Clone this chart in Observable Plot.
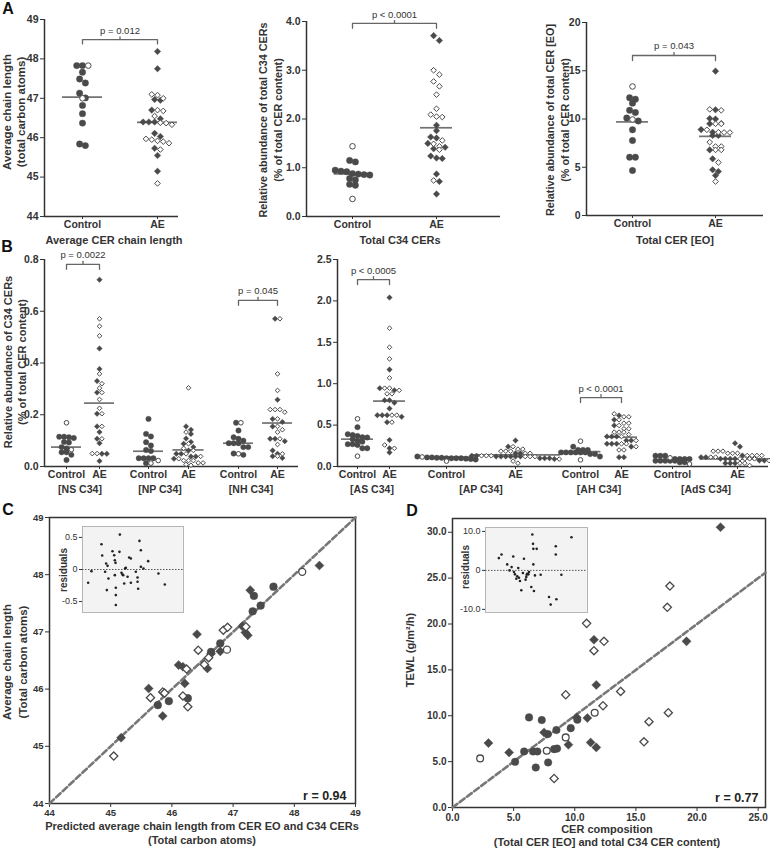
<!DOCTYPE html>
<html><head><meta charset="utf-8">
<script src="https://cdn.jsdelivr.net/npm/d3@7"></script>
<script src="https://cdn.jsdelivr.net/npm/@observablehq/plot@0.6"></script>
<style>
body{margin:0;background:#fff;}
#fig{position:relative;width:770px;height:849px;overflow:hidden;font-family:"Liberation Sans",Arial,Helvetica,sans-serif;color:#333;background:#fff;}
.t{position:absolute;white-space:nowrap;font-weight:bold;line-height:1;}
</style></head><body><div id="fig"></div><script>
// ---------------- DATA ----------------
// Panel A1: average CER chain length
const lenControlFilled = [47.83, 47.83, 47.66, 47.49, 47.39, 47.13, 47.01, 46.82, 46.61, 46.37, 45.84, 45.80];
const lenControlOpen = [47.83, 47.0];
const lenAEFilled = [48.19, 47.75, 46.97, 46.95, 46.7, 46.48, 46.4, 46.4, 46.4, 46.11, 46.03, 45.73, 45.55, 45.15];
const lenAEOpen = [47.1, 47.08, 47.0, 46.68, 46.7, 46.55, 46.38, 46.37, 46.33, 45.97, 45.95, 45.92, 45.9, 45.86, 45.70, 44.84];
const lenMedians = [47.03, 46.39];
// Panel A2: total C34 CERs
const c34ControlFilled = [1.15, 1.12, 0.95, 0.93, 0.92, 0.88, 0.87, 0.86, 0.85, 0.78, 0.75, 0.66, 0.64];
const c34ControlOpen = [1.44, 0.36];
const c34AEFilled = [3.71, 3.61, 1.87, 1.76, 1.63, 1.61, 1.5, 1.42, 1.39, 1.24, 1.2, 1.19, 0.87, 0.72, 0.46];
const c34AEOpen = [3.0, 2.91, 2.77, 2.67, 2.5, 2.21, 2.09, 2.05, 2.04, 1.56, 1.49, 1.44, 1.37, 0.74];
const c34Medians = [0.875, 1.82];
// Panel A3: total CER [EO]
const eoControlFilled = [12.2, 12.05, 11.64, 10.9, 10.67, 10.1, 9.8, 8.88, 7.77, 6.04, 6.04, 4.66];
const eoControlOpen = [13.37, 9.95];
const eoAEFilled = [14.96, 10.95, 10.05, 10.0, 9.5, 8.9, 8.63, 8.3, 8.3, 6.8, 5.87, 4.73, 4.56, 4.15];
const eoAEOpen = [11.0, 10.9, 9.55, 9.5, 9.5, 8.88, 8.6, 8.63, 8.6, 7.6, 7.15, 7.15, 6.8, 6.8, 5.5, 3.52];
const eoMedians = [9.7, 8.2];
// Panel B: C34 species
const nsControlFilled = [0.115, 0.115, 0.113, 0.11, 0.095, 0.093, 0.075, 0.07, 0.055, 0.055, 0.045, 0.025];
const nsControlOpen = [0.169, 0.065];
const nsAEFilled = [0.722, 0.456, 0.377, 0.33, 0.286, 0.204, 0.155, 0.133, 0.107, 0.09, 0.049, 0.049, 0.021];
const nsAEOpen = [0.571, 0.542, 0.505, 0.358, 0.32, 0.303, 0.286, 0.259, 0.225, 0.204, 0.155, 0.107, 0.05, 0.05];
const npControlFilled = [0.184, 0.126, 0.116, 0.094, 0.081, 0.064, 0.06, 0.032, 0.032, 0.032, 0.032, 0.013];
const npControlOpen = [0.023, 0.013];
const npAEFilled = [0.155, 0.142, 0.126, 0.108, 0.095, 0.088, 0.075, 0.062, 0.049, 0.049, 0.039, 0.039, 0.03];
const npAEOpen = [0.304, 0.133, 0.088, 0.07, 0.062, 0.049, 0.039, 0.03, 0.023, 0.023, 0.023, 0.014, 0.014, 0.008, 0.005];
const nhControlFilled = [0.169, 0.139, 0.113, 0.107, 0.1, 0.09, 0.09, 0.09, 0.075, 0.075, 0.05, 0.045];
const nhControlOpen = [0.169, 0.049];
const nhAEFilled = [0.571, 0.258, 0.184, 0.172, 0.155, 0.107, 0.107, 0.098, 0.062, 0.049, 0.04, 0.033];
const nhAEOpen = [0.571, 0.358, 0.294, 0.22, 0.22, 0.22, 0.21, 0.184, 0.155, 0.142, 0.133, 0.107, 0.085, 0.049, 0.04];
const bLeftMedians = [0.075, 0.245, 0.059, 0.064, 0.09, 0.168];
const asControlFilled = [0.475, 0.39, 0.38, 0.37, 0.355, 0.35, 0.33, 0.31, 0.3, 0.27, 0.27, 0.26, 0.22, 0.22];
const asControlOpen = [0.576, 0.125];
const asAEFilled = [2.04, 1.17, 0.946, 0.92, 0.8, 0.8, 0.77, 0.70, 0.62, 0.62, 0.62, 0.6, 0.535, 0.32, 0.22, 0.17];
const asAEOpen = [1.67, 1.44, 1.3, 1.07, 0.946, 0.946, 0.92, 0.878, 0.878, 0.62, 0.62, 0.535, 0.26, 0.22];
const apControlFilled = [0.105, 0.1, 0.11, 0.1, 0.095, 0.12, 0.105, 0.09, 0.1, 0.11, 0.085, 0.1];
const apControlOpen = [0.115, 0.065];
const apAEFilled = [0.314, 0.24, 0.16, 0.16, 0.13, 0.13, 0.12, 0.12, 0.12, 0.12, 0.12, 0.12, 0.1, 0.1, 0.1, 0.09];
const apAEOpen = [0.24, 0.21, 0.21, 0.185, 0.185, 0.185, 0.16, 0.16, 0.13, 0.13, 0.13, 0.12, 0.12, 0.12, 0.09, 0.065, 0.04];
const ahControlFilled = [0.24, 0.2, 0.2, 0.2, 0.17, 0.17, 0.17, 0.17, 0.17, 0.17, 0.15, 0.15, 0.12];
const ahControlOpen = [0.306, 0.08];
const ahAEFilled = [0.616, 0.564, 0.495, 0.362, 0.362, 0.362, 0.314, 0.314, 0.274, 0.274, 0.274, 0.24, 0.113, 0.113];
const ahAEOpen = [0.636, 0.6, 0.6, 0.564, 0.523, 0.523, 0.495, 0.455, 0.455, 0.415, 0.415, 0.415, 0.386, 0.362, 0.314, 0.274, 0.274, 0.24, 0.2, 0.2];
const adsControlFilled = [0.13, 0.13, 0.13, 0.09, 0.09, 0.09, 0.09, 0.07, 0.07, 0.07, 0.07, 0.07, 0.05, 0.05];
const adsControlOpen = [0.105, 0.03];
const adsAEFilled = [0.28, 0.24, 0.133, 0.113, 0.113, 0.093, 0.093, 0.093, 0.093, 0.072, 0.072, 0.04, 0.04, 0.04];
const adsAEOpen = [0.185, 0.185, 0.185, 0.16, 0.16, 0.16, 0.133, 0.133, 0.133, 0.133, 0.113, 0.113, 0.093, 0.093, 0.093, 0.093, 0.072, 0.072, 0.04, 0.04, 0.012];
const bRightMedians = [0.33, 0.79, 0.115, 0.14, 0.18, 0.354, 0.08, 0.093];
// Panel C: predicted vs measured chain length
const cPredicted = [45.05,45.17,45.62,45.65,45.77,45.85,45.85,45.88,45.95,46.18,46.21,46.26,46.26,46.11,46.18,46.24,46.41,46.43,46.53,46.58,46.60,46.64,46.64,46.79,46.79,46.84,46.91,46.90,47.15,47.21,47.20,47.24,47.32,47.45,47.28,47.34,47.66,48.13,48.41];
const cMeasured  = [44.83,45.15,46.01,45.85,45.72,45.53,45.95,45.93,45.79,45.88,46.10,45.84,45.69,46.42,46.39,46.35,46.96,46.68,46.43,46.36,46.55,46.62,46.65,46.66,46.80,47.03,47.08,46.69,47.10,47.09,46.99,46.94,47.36,47.46,47.73,47.63,47.79,48.05,48.16];
const cGroup = ["AE","AE","AE","AE","Control","AE","AE","AE","Control","AE","AE","Control","AE","AE","AE","AE","AE","AE","AE","AE","AE","AE","Control","AE","Control","AE","AE","Control","AE","AE","AE","AE","Control","Control","AE","Control","Control","Control","AE"];
const cOpen = [1,0,0,1,0,0,1,1,0,1,0,0,1,0,0,1,0,1,1,0,1,0,0,0,0,1,1,1,0,1,0,0,0,0,0,0,0,1,0];
const cResidualX = [5.6,8.9,18.8,19.5,22.4,23.4,24.8,24.1,25.7,29.7,31.4,32.0,32.7,32.0,33.0,33.0,33.0,37.0,36.6,38.6,39.6,40.3,41.3,42.2,42.9,44.6,46.2,47.9,47.9,52.8,54.5,54.5,55.1,56.4,57.8,57.8,60.4,65.0,75.2,81.5];
const cResidualY = [-0.207,-0.026,0.394,0.218,-0.036,0.093,0.057,-0.321,-0.140,0.285,0.223,0.145,0.104,-0.088,-0.285,-0.399,-0.554,0.544,0.275,-0.052,-0.078,-0.088,-0.218,0.016,0.026,-0.114,0.187,0.171,-0.207,-0.036,-0.124,-0.192,-0.301,0.446,0.301,0.041,0.016,0.130,-0.062,-0.233];
const cR = "r = 0.94";
// Panel D: TEWL vs CER composition
const dComposition = [2.26,2.94,4.63,5.12,5.86,6.26,6.59,6.94,6.81,7.30,7.49,7.71,7.82,8.31,8.31,8.55,8.50,9.26,9.26,9.48,9.67,10.16,10.21,10.97,11.03,11.30,11.57,11.57,11.63,11.76,11.76,12.31,12.39,13.75,15.66,16.07,17.57,17.65,19.14,17.78,21.92,7.80];
const dTEWL = [5.35,7.02,6.0,4.98,6.11,9.82,6.11,6.11,4.36,9.53,8.18,6.18,4.91,3.16,6.36,6.42,8.44,12.29,7.64,6.84,8.65,9.82,9.56,20.07,9.75,7.09,18.29,17.09,10.33,13.35,6.55,11.09,18.11,12.65,7.16,9.35,21.82,10.33,18.11,24.14,30.55,8.0];
const dGroup = ["Control","AE","AE","Control","Control","Control","Control","Control","Control","Control","AE","Control","Control","AE","Control","Control","Control","AE","Control","AE","Control","AE","Control","AE","AE","AE","AE","AE","Control","AE","AE","AE","AE","AE","AE","AE","AE","AE","AE","AE","AE","Control"];
const dOpen = [1,0,0,0,0,0,0,0,0,0,0,1,0,1,0,0,0,1,1,0,0,0,0,1,0,0,0,1,1,0,0,1,1,1,1,1,1,1,0,1,0,0];
const dResidualX = [13.1,15.7,27.2,21.3,23.6,25.6,27.9,28.9,30.2,31.1,32.1,32.8,33.8,35.1,36.7,37.7,39.3,40.0,40.3,41.0,42.0,42.6,44.9,45.9,46.6,46.9,46.9,47.5,48.5,50.2,54.1,62.3,63.9,68.9,68.9,69.5,74.4,84.3];
const dResidualY = [3.15,4.09,3.57,1.53,0.0,0.85,-0.43,-1.02,-2.13,-1.53,0.60,-1.87,-2.72,-5.11,-0.68,2.98,-2.38,-1.70,-1.11,-0.85,-1.02,-0.43,-4.26,9.19,6.81,5.53,1.53,-5.28,-1.28,5.53,-1.11,-6.81,-8.77,6.21,4.09,-7.40,-1.11,8.51];
const dFit = {slope: 1.0, intercept: 0.0};
const dR = "r = 0.77";

// ---------------- STYLE / HELPERS ----------------
const FONT = '"Liberation Sans", Arial, Helvetica, sans-serif';
const INK = "#333";
const DOT = "#4a4a4a";
const MED = "#727272";
const fig = document.getElementById("fig");
const baseStyle = (size, weight="bold") => ({fontFamily: FONT, fontSize: size + "px", fontWeight: weight, color: INK, background: "transparent", overflow: "visible"});

function place(svg, left, top) {
  svg.style.position = "absolute";
  svg.style.left = left + "px";
  svg.style.top = top + "px";
  svg.style.maxWidth = "none";
  fig.appendChild(svg);
}
function txt(s, x, y, o = {}) {
  const d = document.createElement("div");
  d.className = "t";
  d.textContent = s;
  d.style.left = x + "px";
  d.style.top = y + "px";
  d.style.fontSize = (o.size || 11) + "px";
  if (o.weight) d.style.fontWeight = o.weight;
  if (o.color) d.style.color = o.color;
  d.style.transform = "translate(-50%,-50%)" + (o.rot ? " rotate(-90deg)" : "");
  fig.appendChild(d);
}
function dotMarks(pts, rC, rD, sw = 1.1) {
  return [
    Plot.dot(pts.filter(p => p.ctrl && !p.open), {x: "x", y: "y", r: rC, symbol: "circle", fill: DOT, stroke: DOT, strokeWidth: 0.4}),
    Plot.dot(pts.filter(p => !p.ctrl && !p.open), {x: "x", y: "y", r: rD, symbol: "diamond2", fill: DOT, stroke: DOT, strokeWidth: 0.4}),
    Plot.dot(pts.filter(p => p.ctrl && p.open), {x: "x", y: "y", r: rC - 0.4, symbol: "circle", fill: "white", stroke: DOT, strokeWidth: sw}),
    Plot.dot(pts.filter(p => !p.ctrl && p.open), {x: "x", y: "y", r: rD - 0.4, symbol: "diamond2", fill: "white", stroke: DOT, strokeWidth: sw})
  ];
}

function strip(cfg) {
  const {left, top, width, height, ml, mr, mt, mb, yDomain, yTicks, yFmt, groups, r} = cfg;
  const innerW = width - ml - mr;
  const yPx = d3.scaleLinear(yDomain, [height - mb, mt]);
  const spacing = 2 * r * 0.9, thresh = 2 * r * 0.8;
  const pts = [], meds = [], center = {};
  groups.forEach(g => {
    center[g.key] = g.center;
    const all = g.filled.map(v => ({v, open: false})).concat(g.open.map(v => ({v, open: true}))).sort((a, b) => b.v - a.v);
    const rows = []; let cur = null;
    for (const p of all) {
      const py = yPx(p.v);
      if (cur && py - cur.y0 < thresh) cur.items.push(p); else rows.push(cur = {y0: py, items: [p]});
    }
    let maxOff = 0;
    rows.forEach(row => {
      const n = row.items.length;
      row.items.forEach((p, i) => {
        const off = (i - (n - 1) / 2) * spacing;
        maxOff = Math.max(maxOff, Math.abs(off));
        pts.push({x: g.center + off, y: p.v, open: p.open, ctrl: g.ctrl});
      });
    });
    const half = Math.max(cfg.medHalf, maxOff + 1);
    meds.push({x1: g.center - half, x2: g.center + half, y: g.median});
  });
  const labelOf = new Map(groups.map(g => [g.center, g.ctrl ? "Control" : "AE"]));
  const br = (cfg.brackets || []).flatMap(b => {
    const x1 = center[b.a], x2 = center[b.b], xm = (x1 + x2) / 2;
    return [
      Plot.line([[x1, b.y - b.leg], [x1, b.y], [x2, b.y], [x2, b.y - b.leg]], {stroke: "#666", strokeWidth: 1.3}),
      Plot.line([[xm, b.y], [xm, b.y + b.tick]], {stroke: "#666", strokeWidth: 1.3}),
      Plot.text([{x: xm, y: b.ty, t: b.label}], {x: "x", y: "y", text: "t", fontSize: 9.5, fontWeight: "normal", fill: "#333"})
    ];
  });
  const svg = Plot.plot({
    width, height, marginLeft: ml, marginRight: mr, marginTop: mt, marginBottom: mb,
    style: baseStyle(cfg.font || 10.5),
    x: {domain: [0, innerW], ticks: groups.map(g => g.center), tickFormat: d => labelOf.get(d), tickSize: 3, tickPadding: cfg.xPad ?? 2, label: null},
    y: {domain: yDomain, ticks: yTicks, tickFormat: yFmt, tickSize: 4, tickPadding: 2, label: null},
    marks: [
      Plot.ruleY([yDomain[0]], {stroke: INK, strokeWidth: 1.5}),
      Plot.ruleX([0], {stroke: INK, strokeWidth: 1.5}),
      Plot.ruleY(meds, {y: "y", x1: "x1", x2: "x2", stroke: MED, strokeWidth: 1.7}),
      ...dotMarks(pts, r, r * 0.92, 1.0),
      ...br
    ]
  });
  place(svg, left, top);
}

const f1 = d3.format(".1f");

// ---------------- PANEL A ----------------
strip({left: 0, top: 0, width: 185, height: 245, ml: 44, mr: 7, mt: 19, mb: 29, r: 3.2, medHalf: 20, font: 10.5,
  yDomain: [44, 49], yTicks: [44, 45, 46, 47, 48, 49], yFmt: d => d, xPad: 1,
  groups: [
    {key: "C", ctrl: true, center: 38, filled: lenControlFilled, open: lenControlOpen, median: lenMedians[0]},
    {key: "AE", ctrl: false, center: 113, filled: lenAEFilled, open: lenAEOpen, median: lenMedians[1]}],
  brackets: [{a: "C", b: "AE", y: 48.49, leg: 0.11, tick: 0.07, ty: 48.72, label: "p = 0.012"}]});
strip({left: 250, top: 0, width: 252, height: 245, ml: 56, mr: 2, mt: 21, mb: 29, r: 3.2, medHalf: 16, font: 10.5,
  yDomain: [0, 4], yTicks: [0, 1, 2, 3, 4], yFmt: f1, xPad: 1,
  groups: [
    {key: "C", ctrl: true, center: 46, filled: c34ControlFilled, open: c34ControlOpen, median: c34Medians[0]},
    {key: "AE", ctrl: false, center: 130, filled: c34AEFilled, open: c34AEOpen, median: c34Medians[1]}],
  brackets: [{a: "C", b: "AE", y: 3.96, leg: 0.1, tick: 0.06, ty: 4.13, label: "p < 0.0001"}]});
strip({left: 510, top: 0, width: 258, height: 245, ml: 76, mr: 5, mt: 22, mb: 30, r: 3.2, medHalf: 16, font: 10.5,
  yDomain: [0, 20], yTicks: [0, 5, 10, 15, 20], yFmt: d => d, xPad: 1,
  groups: [
    {key: "C", ctrl: true, center: 46, filled: eoControlFilled, open: eoControlOpen, median: eoMedians[0]},
    {key: "AE", ctrl: false, center: 129, filled: eoAEFilled, open: eoAEOpen, median: eoMedians[1]}],
  brackets: [{a: "C", b: "AE", y: 16.58, leg: 0.52, tick: 0.3, ty: 17.6, label: "p = 0.043"}]});

// ---------------- PANEL B ----------------
strip({left: 0, top: 240, width: 300, height: 255, ml: 44, mr: 2, mt: 19, mb: 29, r: 2.7, medHalf: 15,
  yDomain: [0, 0.8], yTicks: [0, 0.2, 0.4, 0.6, 0.8], yFmt: f1, xPad: 1,
  groups: [
    {key: "NSC", ctrl: true, center: 22, filled: nsControlFilled, open: nsControlOpen, median: bLeftMedians[0]},
    {key: "NSA", ctrl: false, center: 55, filled: nsAEFilled, open: nsAEOpen, median: bLeftMedians[1]},
    {key: "NPC", ctrl: true, center: 104, filled: npControlFilled, open: npControlOpen, median: bLeftMedians[2]},
    {key: "NPA", ctrl: false, center: 144, filled: npAEFilled, open: npAEOpen, median: bLeftMedians[3]},
    {key: "NHC", ctrl: true, center: 194, filled: nhControlFilled, open: nhControlOpen, median: bLeftMedians[4]},
    {key: "NHA", ctrl: false, center: 233, filled: nhAEFilled, open: nhAEOpen, median: bLeftMedians[5]}],
  brackets: [
    {a: "NSC", b: "NSA", y: 0.781, leg: 0.019, tick: 0.012, ty: 0.816, label: "p = 0.0022"},
    {a: "NHC", b: "NHA", y: 0.642, leg: 0.019, tick: 0.012, ty: 0.677, label: "p = 0.045"}]});
strip({left: 290, top: 240, width: 480, height: 255, ml: 47, mr: 2, mt: 19, mb: 29, r: 2.7, medHalf: 16,
  yDomain: [0, 2.5], yTicks: [0, 0.5, 1, 1.5, 2, 2.5], yFmt: f1, xPad: 1,
  groups: [
    {key: "ASC", ctrl: true, center: 20, filled: asControlFilled, open: asControlOpen, median: bRightMedians[0]},
    {key: "ASA", ctrl: false, center: 52, filled: asAEFilled, open: asAEOpen, median: bRightMedians[1]},
    {key: "APC", ctrl: true, center: 109, filled: apControlFilled, open: apControlOpen, median: bRightMedians[2]},
    {key: "APA", ctrl: false, center: 178, filled: apAEFilled, open: apAEOpen, median: bRightMedians[3]},
    {key: "AHC", ctrl: true, center: 243, filled: ahControlFilled, open: ahControlOpen, median: bRightMedians[4]},
    {key: "AHA", ctrl: false, center: 284, filled: ahAEFilled, open: ahAEOpen, median: bRightMedians[5]},
    {key: "ADC", ctrl: true, center: 335, filled: adsControlFilled, open: adsControlOpen, median: bRightMedians[6]},
    {key: "ADA", ctrl: false, center: 400, filled: adsAEFilled, open: adsAEOpen, median: bRightMedians[7]}],
  brackets: [
    {a: "ASC", b: "ASA", y: 2.258, leg: 0.06, tick: 0.036, ty: 2.367, label: "p < 0.0005"},
    {a: "AHC", b: "AHA", y: 0.833, leg: 0.06, tick: 0.036, ty: 0.942, label: "p < 0.0001"}]});

// ---------------- PANEL C ----------------
{
  const pts = cPredicted.map((x, i) => ({x, y: cMeasured[i], ctrl: cGroup[i] === "Control", open: !!cOpen[i]}));
  const dom = [44, 49];
  const svg = Plot.plot({
    width: 380, height: 349, marginLeft: 49, marginRight: 25, marginTop: 17, marginBottom: 46,
    style: baseStyle(9.5),
    x: {domain: dom, ticks: [44, 45, 46, 47, 48, 49], tickFormat: d => d, tickSize: 4, tickPadding: 2, label: null},
    y: {domain: dom, ticks: [44, 45, 46, 47, 48, 49], tickFormat: d => d, tickSize: 4, tickPadding: 2, label: null},
    marks: [
      Plot.frame({stroke: INK, strokeWidth: 1.5}),
      Plot.line(dom.map(v => [v, v]), {stroke: "#777", strokeWidth: 2.6, strokeDasharray: "6,3"}),
      ...dotMarks(pts, 3.9, 4.1, 1.3),
      Plot.text([cR], {frameAnchor: "bottom-right", dx: -9, dy: -4, fontSize: 12.5, fontWeight: "bold", fill: "#222"})
    ]
  });
  place(svg, 0, 500);
  const res = cResidualX.map((x, i) => ({x, y: cResidualY[i]}));
  const inset = Plot.plot({
    width: 135, height: 95, marginLeft: 32, marginRight: 2, marginTop: 6, marginBottom: 3,
    style: baseStyle(9, "normal"),
    x: {domain: [0, 100], axis: null},
    y: {domain: [-0.67, 0.67], ticks: [-0.5, 0, 0.5], tickFormat: d => d === 0 ? "0" : d.toFixed(1), tickSize: 3, tickPadding: 2, label: null},
    marks: [
      Plot.frame({fill: "#f3f3f3", stroke: "#b5b5b5"}),
      Plot.ruleY([0], {stroke: "#555", strokeDasharray: "1.5,1.5", strokeWidth: 1}),
      Plot.dot(res, {x: "x", y: "y", r: 1.3, fill: "#222", stroke: "none"})
    ]
  });
  place(inset, 50, 520);
}

// ---------------- PANEL D ----------------
{
  const pts = dComposition.map((x, i) => ({x, y: dTEWL[i], ctrl: dGroup[i] === "Control", open: !!dOpen[i]}));
  const xd = [0, 25.6];
  const svg = Plot.plot({
    width: 385, height: 349, marginLeft: 67, marginRight: 5, marginTop: 18, marginBottom: 42,
    style: baseStyle(10),
    x: {domain: xd, ticks: [0, 5, 10, 15, 20, 25], tickFormat: f1, tickSize: 4, tickPadding: 2, label: null},
    y: {domain: [0, 31.5], ticks: [0, 5, 10, 15, 20, 25, 30], tickFormat: f1, tickSize: 4, tickPadding: 2, label: null},
    marks: [
      Plot.frame({stroke: INK, strokeWidth: 1.5}),
      Plot.line(xd.map(v => [v, dFit.intercept + dFit.slope * v]), {stroke: "#777", strokeWidth: 2.6, strokeDasharray: "6,3"}),
      ...dotMarks(pts, 3.8, 4.1, 1.3),
      Plot.text([dR], {frameAnchor: "bottom-right", dx: -7, dy: -6, fontSize: 12.5, fontWeight: "bold", fill: "#222"})
    ]
  });
  place(svg, 385, 500);
  const res = dResidualX.map((x, i) => ({x, y: dResidualY[i]}));
  const inset = Plot.plot({
    width: 150, height: 95, marginLeft: 45, marginRight: 3, marginTop: 7, marginBottom: 3,
    style: baseStyle(9, "normal"),
    x: {domain: [0, 100], axis: null},
    y: {domain: [-10.8, 11.0], ticks: [-10, 0, 10], tickFormat: d => d === 0 ? "0" : d.toFixed(1), tickSize: 3, tickPadding: 2, label: null},
    marks: [
      Plot.frame({fill: "#f3f3f3", stroke: "#b5b5b5"}),
      Plot.ruleY([0], {stroke: "#555", strokeDasharray: "1.5,1.5", strokeWidth: 1}),
      Plot.dot(res, {x: "x", y: "y", r: 1.3, fill: "#222", stroke: "none"})
    ]
  });
  place(inset, 440, 520);
}

// ---------------- TEXT ----------------
txt("A", 8, 9, {size: 16, color: "#111"});
txt("B", 7, 247, {size: 16, color: "#111"});
txt("C", 8, 510, {size: 16, color: "#111"});
txt("D", 412, 511, {size: 16, color: "#111"});
txt("Average chain length", 8, 112, {rot: true, size: 11.5});
txt("(total carbon atoms)", 22, 112, {rot: true, size: 11.5});
txt("Relative abundance of total C34 CERs", 263, 120, {rot: true, size: 10.8});
txt("(% of total CER content)", 278, 120, {rot: true, size: 10.8});
txt("Relative abundance of total CER [EO]", 550, 120, {rot: true, size: 10.8});
txt("(% of total CER content)", 565, 120, {rot: true, size: 10.8});
txt("Average CER chain length", 114, 239.5, {size: 11});
txt("Total C34 CERs", 400, 239.5, {size: 11});
txt("Total CER [EO]", 675, 239.5, {size: 11});
txt("Relative abundance of C34 CERs", 8, 362, {rot: true, size: 11});
txt("(% of total CER content)", 22, 362, {rot: true, size: 11});
[["[NS C34]", 80], ["[NP C34]", 160], ["[NH C34]", 251], ["[AS C34]", 372], ["[AP C34]", 481], ["[AH C34]", 599], ["[AdS C34]", 706]]
  .forEach(([s, x]) => txt(s, x, 489, {size: 10.5}));
txt("Average chain length", 8, 662, {rot: true, size: 11.5});
txt("(Total carbon atoms)", 24, 662, {rot: true, size: 11.5});
txt("Predicted average chain length from CER EO and C34 CERs", 202, 826, {size: 11});
txt("(Total carbon atoms)", 202, 840, {size: 11});
txt("residuals", 64, 570, {rot: true, size: 10});
txt("TEWL (g/m²/h)", 410, 650, {rot: true, size: 11});
txt("CER composition", 607, 829, {size: 11});
txt("(Total CER [EO] and total C34 CER content)", 607, 842, {size: 11});
txt("residuals", 466, 567, {rot: true, size: 10});
</script></body></html>
